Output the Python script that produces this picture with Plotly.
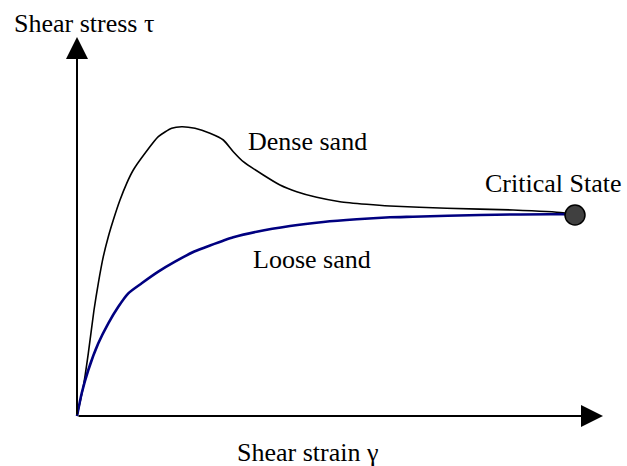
import plotly.graph_objects as go

# Shear strain / shear stress (arbitrary units, origin at 0,0)
dense_strain = [0, 6.3, 11.3, 17, 21.3, 26.3, 31.3, 36.3, 43, 49.7, 56.3, 68, 81.3, 94.7, 104.7, 118, 133,
                146.3, 156.3, 166.3, 186.3, 203, 219.7, 239.7, 263, 289.7, 313, 369.7, 436, 486, 498]
dense_stress = [0, 29.3, 62.7, 106, 132.7, 159.3, 179.3, 196, 216, 232.7, 246, 262.7, 279.3, 287.7, 289.3, 287.7, 282.7,
                276, 264.3, 254.3, 241, 231, 224.3, 218.7, 214.3, 211.7, 210, 207.7, 206, 203.3, 201]

loose_strain = [0, 4.7, 11.3, 21.3, 31.3, 41.3, 51.3, 64.7, 81.3, 98, 117.3, 133, 156.3, 179.7, 213,
                246.3, 279.7, 313, 336, 403, 486, 498]
loose_stress = [0, 22.7, 46, 72.7, 92.7, 109.3, 122.7, 132.7, 144.3, 154.3, 164.5, 170.5, 178.7, 184.3, 190,
                194, 196.7, 198.7, 199.3, 201, 201.7, 201]

critical_strain = [498]
critical_stress = [201]

x_axis_end = 526
y_axis_end = 379

FONT = "'Times New Roman', 'Liberation Serif', Times, serif"

fig = go.Figure()
fig.add_trace(go.Scatter(x=dense_strain, y=dense_stress, mode="lines",
                         line=dict(color="black", width=1.6, shape="spline", smoothing=0.6),
                         hoverinfo="skip"))
fig.add_trace(go.Scatter(x=loose_strain, y=loose_stress, mode="lines",
                         line=dict(color="#000080", width=2.6, shape="spline", smoothing=0.6),
                         hoverinfo="skip"))
fig.add_trace(go.Scatter(x=critical_strain, y=critical_stress, mode="markers",
                         marker=dict(size=20, color="#404040", line=dict(color="black", width=1.5)),
                         hoverinfo="skip"))

# axes with arrows
fig.add_annotation(x=x_axis_end, y=0, ax=0, ay=0, xref="x", yref="y", axref="x", ayref="y",
                   showarrow=True, arrowhead=2, arrowsize=2.2, arrowwidth=2, arrowcolor="black", text="")
fig.add_annotation(x=0, y=y_axis_end, ax=0, ay=0, xref="x", yref="y", axref="x", ayref="y",
                   showarrow=True, arrowhead=2, arrowsize=2.2, arrowwidth=2, arrowcolor="black", text="")

labels = [
    ("Shear stress τ", -65, 393),
    ("Dense sand", 169, 275),
    ("Loose sand", 174, 157),
    ("Critical State", 406, 233),
    ("Shear strain γ", 158, -36),
]
for txt, x, y in labels:
    fig.add_annotation(x=x, y=y, text=txt, showarrow=False, xanchor="left", yanchor="middle",
                       font=dict(family=FONT, size=26, color="black"))

fig.update_layout(
    width=627, height=466,
    margin=dict(l=0, r=0, t=0, b=0),
    paper_bgcolor="white", plot_bgcolor="white",
    showlegend=False,
    xaxis=dict(range=[-77, 550], visible=False, fixedrange=True),
    yaxis=dict(range=[-50, 416], visible=False, fixedrange=True),
)
fig.write_html("out.html", config={"displayModeBar": False},
               post_script="document.body.style.margin='0';document.body.style.overflow='hidden';")
